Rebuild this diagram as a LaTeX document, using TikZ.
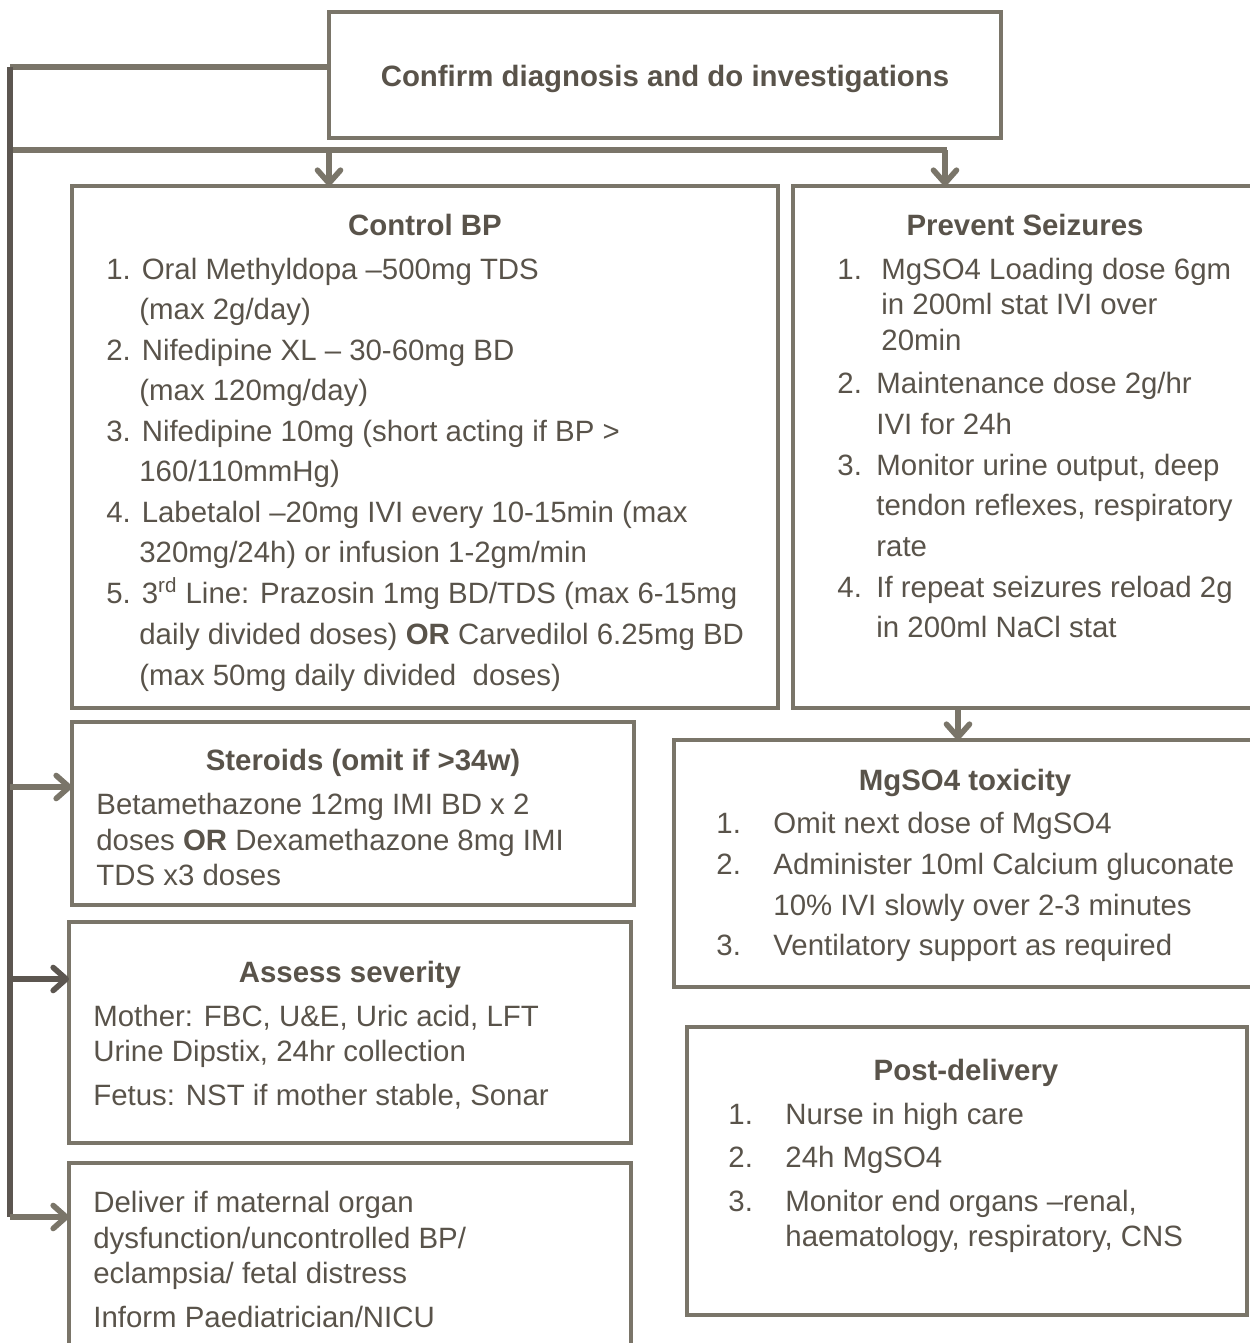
\documentclass[tikz,border=0pt]{standalone}
\usepackage{fontspec}
\setmainfont{Liberation Sans}
\usetikzlibrary{arrows.meta}
\definecolor{frame}{RGB}{122,117,105}
\definecolor{spinec}{RGB}{92,86,80}
\definecolor{ink}{RGB}{89,83,74}
\newcommand\body{\fontsize{14.7pt}{18pt}\selectfont}
\tikzset{
  box/.style={draw=frame, line width=2.2pt, rectangle, inner sep=0pt, outer sep=0pt},
  link/.style={draw=frame, line width=2.8pt},
  tip/.style={-{Straight Barb[length=6.5pt,width=11.5pt,round]}},
  txt/.style={anchor=base west, inner sep=0pt, text=ink, font=\body},
  ttl/.style={anchor=base, inner sep=0pt, text=ink, font=\body\bfseries}
}
\begin{document}
\begin{tikzpicture}[x=0.5pt,y=-0.5pt]
  \useasboundingbox (0,0) rectangle (1249,1343);
  % boxes
  \node [box, minimum width=336pt, minimum height=63pt] (confirm) at (665,75) {};
  \node [box, minimum width=353pt, minimum height=261pt] (bp) at (425,447) {};
  \node [box, minimum width=232pt, minimum height=261pt] (seiz) at (1025,447) {};
  \node [box, minimum width=281pt, minimum height=91.5pt] (steroids) at (353,813.5) {};
  \node [box, minimum width=291pt, minimum height=123.5pt] (tox) at (965,863.5) {};
  \node [box, minimum width=281pt, minimum height=110.5pt] (assess) at (350,1032.5) {};
  \node [box, minimum width=280pt, minimum height=144pt] (post) at (967,1171) {};
  \node [box, minimum width=281pt, minimum height=118.5pt] (deliver) at (350,1281.5) {};
  % connectors
  \coordinate (top) at (10,67);
  \coordinate (bot) at (10,1217);
  \coordinate (ster) at (10,787);
  \coordinate (ass) at (10,979);
  \coordinate (br) at (13,150);
  \coordinate (bre) at (947,150);
  \coordinate (a1) at (329,150);
  \coordinate (a2) at (945,150);
  \coordinate (a3) at (958,708);
  \draw [link] ([yshift=4pt]confirm.west) -- (top);
  \draw [link, draw=spinec] (top) -- (bot);
  \draw [link] (br) -- (bre);
  \draw [link, tip] (a1) -- (a1 |- bp.north);
  \draw [link, tip] (a2) -- (a2 |- seiz.north);
  \draw [link, tip] (a3) -- (a3 |- tox.north);
  \draw [link, tip] (ster) -- (ster -| steroids.west);
  \draw [link, tip, draw=spinec] (ass) -- (ass -| assess.west);
  \draw [link, tip] (bot) -- (bot -| deliver.west);
  % texts
  \node [ttl] (confirmt) at (665,87) {Confirm diagnosis and do investigations};
  \node [ttl] (bpt) at (425,235) {Control BP};
  \node [txt] (bp1) at (106,279) {1. Oral Methyldopa –500mg TDS};
  \node [txt] (bp1b) at (139,319) {(max 2g/day)};
  \node [txt] (bp2) at (106,360) {2. Nifedipine XL – 30-60mg BD};
  \node [txt] (bp2b) at (139,400) {(max 120mg/day)};
  \node [txt] (bp3) at (106,441) {3. Nifedipine 10mg (short acting if BP >};
  \node [txt] (bp3b) at (139,481) {160/110mmHg)};
  \node [txt] (bp4) at (106,522) {4. Labetalol –20mg IVI every 10-15min (max};
  \node [txt] (bp4b) at (139,562) {320mg/24h) or infusion 1-2gm/min};
  \node [txt] (bp5) at (106,603) {5. 3\textsuperscript{rd} Line: Prazosin 1mg BD/TDS (max 6-15mg};
  \node [txt] (bp5b) at (139,644) {daily divided doses) \textbf{OR} Carvedilol 6.25mg BD};
  \node [txt] (bp5c) at (139,685) {(max 50mg daily divided\ \ doses)};
  \node [ttl] (seizt) at (1025,235) {Prevent Seizures};
  \node [txt] (sz1n) at (837,279) {1.};
  \node [txt] (sz1) at (881,279) {MgSO4 Loading dose 6gm};
  \node [txt] (sz1b) at (881,314) {in 200ml stat IVI over};
  \node [txt] (sz1c) at (881,350) {20min};
  \node [txt] (sz2n) at (837,393) {2.};
  \node [txt] (sz2) at (876,393) {Maintenance dose 2g/hr};
  \node [txt] (sz2b) at (876,434) {IVI for 24h};
  \node [txt] (sz3n) at (837,475) {3.};
  \node [txt] (sz3) at (876,475) {Monitor urine output, deep};
  \node [txt] (sz3b) at (876,515) {tendon reflexes, respiratory};
  \node [txt] (sz3c) at (876,556) {rate};
  \node [txt] (sz4n) at (837,597) {4.};
  \node [txt] (sz4) at (876,597) {If repeat seizures reload 2g};
  \node [txt] (sz4b) at (876,637) {in 200ml NaCl stat};
  \node [ttl] (stert) at (363,770) {Steroids (omit if >34w)};
  \node [txt] (st1) at (96,814) {Betamethazone 12mg IMI BD x 2};
  \node [txt] (st2) at (96,850) {doses \textbf{OR} Dexamethazone 8mg IMI};
  \node [txt] (st3) at (96,885) {TDS x3 doses};
  \node [ttl] (toxt) at (965,790) {MgSO4 toxicity};
  \node [txt] (tx1n) at (716,833) {1.};
  \node [txt] (tx1) at (773,833) {Omit next dose of MgSO4};
  \node [txt] (tx2n) at (716,874) {2.};
  \node [txt] (tx2) at (773,874) {Administer 10ml Calcium gluconate};
  \node [txt] (tx2b) at (773,915) {10\% IVI slowly over 2-3 minutes};
  \node [txt] (tx3n) at (716,955) {3.};
  \node [txt] (tx3) at (773,955) {Ventilatory support as required};
  \node [ttl] (assesst) at (350,982) {Assess severity};
  \node [txt] (as1) at (93,1026) {Mother: FBC, U\&E, Uric acid, LFT};
  \node [txt] (as2) at (93,1061) {Urine Dipstix, 24hr collection};
  \node [txt] (as3) at (93,1105) {Fetus: NST if mother stable, Sonar};
  \node [ttl] (postt) at (966,1080) {Post-delivery};
  \node [txt] (pd1n) at (728,1124) {1.};
  \node [txt] (pd1) at (785,1124) {Nurse in high care};
  \node [txt] (pd2n) at (728,1167) {2.};
  \node [txt] (pd2) at (785,1167) {24h MgSO4};
  \node [txt] (pd3n) at (728,1211) {3.};
  \node [txt] (pd3) at (785,1211) {Monitor end organs –renal,};
  \node [txt] (pd3b) at (785,1246) {haematology, respiratory, CNS};
  \node [txt] (dl1) at (93,1212) {Deliver if maternal organ};
  \node [txt] (dl2) at (93,1248) {dysfunction/uncontrolled BP/};
  \node [txt] (dl3) at (93,1283) {eclampsia/ fetal distress};
  \node [txt] (dl4) at (93,1327) {Inform Paediatrician/NICU};
\end{tikzpicture}
\end{document}
